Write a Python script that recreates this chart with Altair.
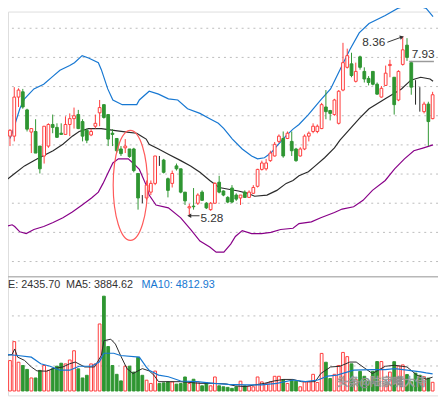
import altair as alt
import pandas as pd

# ---------------- data ----------------
open_ = [6.73, 6.65, 6.65, 7.32, 7.41, 7.10, 6.72, 6.73, 6.48, 6.31,
         6.48, 6.85, 6.80, 6.70, 6.68, 6.85, 6.95, 7.02, 6.90, 6.75,
         6.67, 6.82, 7.05, 7.19, 7.02, 6.70, 6.61, 6.43, 6.45, 6.43,
         6.43, 6.01, 5.57, 5.59, 5.69, 5.84, 6.23, 6.24, 5.92, 5.84,
         6.14, 6.09, 5.69, 5.42, 5.45, 5.50, 5.69, 5.50, 5.39, 5.50,
         5.86, 5.71, 5.60, 5.76, 5.64, 5.59, 5.69, 5.60, 5.67, 5.79,
         6.08, 6.09, 6.23, 6.31, 6.56, 6.61, 6.61, 6.56, 6.43, 6.31,
         6.43, 6.65, 6.73, 6.73, 6.78, 7.15, 7.09, 7.02, 6.87, 7.44,
         7.83, 7.89, 7.59, 8.01, 7.76, 7.64, 7.76, 7.54, 7.32, 7.52,
         7.86, 7.66, 7.27, 7.88, 8.21, 7.91, 7.44, 7.32, 7.07, 7.20,
         6.95]
close = [6.60, 6.75, 7.32, 7.44, 7.15, 6.77, 6.78, 6.36, 6.09, 6.82,
         6.85, 6.80, 6.63, 6.68, 6.85, 6.95, 7.00, 6.78, 6.65, 6.58,
         6.73, 6.87, 7.14, 6.97, 6.60, 6.68, 6.40, 6.35, 6.48, 6.30,
         6.06, 5.59, 5.57, 5.81, 5.84, 6.31, 6.23, 6.03, 5.72, 6.01,
         6.09, 5.69, 5.54, 5.44, 5.44, 5.64, 5.55, 5.42, 5.50, 5.84,
         5.69, 5.64, 5.52, 5.52, 5.57, 5.64, 5.60, 5.69, 5.77, 6.08,
         6.19, 6.19, 6.36, 6.51, 6.65, 6.31, 6.70, 6.40, 6.23, 6.43,
         6.65, 6.70, 6.82, 6.82, 7.19, 7.07, 7.04, 7.27, 7.42, 7.91,
         8.03, 7.69, 7.76, 7.83, 7.63, 7.57, 7.54, 7.37, 7.47, 7.73,
         7.88, 7.19, 7.76, 8.13, 8.00, 7.49, 7.44, 7.32, 7.20, 6.90,
         7.36]
high = [6.78, 6.77, 7.49, 7.47, 7.46, 7.12, 6.78, 6.94, 6.48, 6.82,
        6.87, 7.02, 6.87, 6.87, 6.99, 7.04, 7.14, 7.10, 6.94, 6.78,
        6.78, 7.02, 7.27, 7.19, 7.02, 6.77, 6.61, 6.48, 6.60, 6.43,
        6.45, 6.01, 5.64, 5.89, 5.89, 6.31, 6.31, 6.26, 5.94, 6.06,
        6.18, 6.09, 5.69, 5.49, 5.76, 5.67, 5.72, 5.52, 5.52, 5.86,
        5.97, 5.72, 5.62, 5.81, 5.67, 5.64, 5.72, 5.72, 5.81, 6.09,
        6.23, 6.26, 6.40, 6.55, 6.68, 6.73, 6.73, 6.73, 6.45, 6.46,
        6.68, 6.73, 6.87, 6.85, 7.22, 7.44, 7.10, 7.29, 7.44, 8.25,
        8.15, 8.08, 7.91, 8.03, 7.83, 7.68, 7.76, 7.57, 7.51, 7.86,
        7.96, 7.66, 7.78, 8.36, 8.33, 7.94, 7.61, 7.49, 7.24, 7.24,
        7.41]
low = [6.53, 6.48, 6.56, 7.15, 7.12, 6.73, 6.36, 6.36, 6.01, 6.18,
       6.45, 6.70, 6.62, 6.68, 6.68, 6.65, 6.78, 6.77, 6.56, 6.53,
       6.65, 6.78, 6.82, 6.95, 6.48, 6.48, 6.36, 6.31, 6.36, 6.28,
       6.03, 5.39, 5.50, 5.55, 5.64, 5.81, 6.14, 6.01, 5.60, 5.77,
       6.06, 5.67, 5.47, 5.28, 5.39, 5.47, 5.54, 5.40, 5.37, 5.49,
       5.67, 5.62, 5.50, 5.50, 5.54, 5.47, 5.59, 5.59, 5.66, 5.77,
       6.06, 6.06, 6.21, 6.30, 6.53, 6.28, 6.60, 6.31, 6.21, 6.30,
       6.41, 6.56, 6.70, 6.70, 6.77, 6.94, 6.92, 7.00, 6.85, 7.42,
       7.81, 7.66, 7.57, 7.79, 7.57, 7.52, 7.52, 7.36, 7.31, 7.51,
       7.66, 7.02, 7.25, 7.86, 7.94, 7.36, 7.19, 7.07, 7.04, 6.48,
       6.94]
volume = [5572, 8510, 13807, 8043, 7137, 6039, 3651, 3651, 5765, 7137,
          5765, 6204, 6945, 7768, 7576, 8674, 11255, 6204, 3651, 4392,
          7576, 7576, 18748, 26517, 12435, 7137, 4667, 2827, 6945, 6945,
          5298, 9415, 4392, 3020, 2114, 5572, 2114, 2278, 2553, 2553,
          1922, 2114, 3925, 2114, 3294, 2553, 1455, 2278, 1455, 3925,
          1455, 1180, 1016, 741, 1180, 2745, 1455, 1373, 1180, 3925,
          2553, 2114, 2553, 4118, 4118, 3212, 2114, 2900, 2745, 1180,
          2553, 2553, 4667, 2388, 10513, 8043, 3486, 4667, 7137, 10788,
          9608, 7604, 3294, 5490, 4118, 2745, 5490, 8235, 8235, 1647,
          5298, 8200, 7000, 7300, 4600, 2600, 5000, 4400, 4000, 3600,
          2435.70]

upper_idx = [1.0, 1.5, 3.3, 4.4, 6.6, 8.9, 11.1, 12.7, 15.0, 16.1, 17.9, 19.4, 21.7,
             22.4, 23.9, 25.1, 27.3, 30.7, 31.3, 33.6, 35.8, 38.1, 40.3, 42.6, 45.5,
             47.8, 49.8, 51.1, 52.2, 53.1, 55.4, 57.6, 59.0, 60.6, 62.1, 63.5, 65.7,
             67.3, 68.7, 70.9, 73.8, 76.1, 78.3, 80.6, 82.8, 85.1, 88.9, 91.8, 94.5,
             96.3, 98.5, 100.1]
upper_val = [6.61, 6.70, 7.12, 7.29, 7.46, 7.54, 7.68, 7.78, 7.86, 7.91, 8.03, 7.99, 7.91,
             7.79, 7.46, 7.27, 7.19, 7.19, 7.27, 7.42, 7.37, 7.29, 7.27, 7.12, 7.04,
             6.95, 6.87, 6.78, 6.68, 6.60, 6.43, 6.31, 6.26, 6.28, 6.36, 6.48, 6.66,
             6.77, 6.85, 7.02, 7.27, 7.46, 7.79, 8.13, 8.42, 8.58, 8.72, 8.84, 8.90,
             8.89, 8.84, 8.70]
mid_idx = [0.0, 2.1, 4.4, 7.3, 11.1, 13.4, 15.6, 17.2, 19.4, 22.4, 25.3, 28.4, 30.7,
           31.8, 32.9, 33.6, 35.8, 38.1, 41.0, 43.3, 45.5, 47.8, 50.0, 52.2, 54.5,
           56.7, 58.3, 61.2, 63.5, 65.7, 67.3, 68.7, 70.9, 72.5, 74.7, 77.0, 78.3,
           80.6, 82.8, 85.1, 88.9, 92.7, 94.9, 97.2, 99.4, 100.1]
mid_val = [5.89, 6.01, 6.14, 6.26, 6.40, 6.51, 6.65, 6.73, 6.78, 6.78, 6.75, 6.72, 6.70,
           6.65, 6.60, 6.51, 6.43, 6.34, 6.23, 6.14, 6.03, 5.89, 5.77, 5.74, 5.71,
           5.67, 5.62, 5.64, 5.72, 5.84, 5.89, 5.97, 6.04, 6.14, 6.28, 6.45, 6.58,
           6.77, 6.95, 7.12, 7.29, 7.46, 7.61, 7.66, 7.63, 7.59]
lower_idx = [0.0, 1.5, 2.1, 3.3, 4.8, 6.6, 8.9, 11.1, 13.4, 15.6, 17.9, 20.1, 21.7,
             22.8, 23.9, 25.1, 26.4, 28.7, 29.8, 31.3, 32.9, 33.6, 35.2, 38.1, 41.0,
             43.3, 45.5, 47.8, 49.3, 51.1, 52.7, 53.8, 55.4, 57.6, 59.9, 62.1, 64.4,
             67.3, 68.7, 71.6, 73.8, 77.0, 78.8, 81.5, 83.7, 85.9, 88.9, 91.1, 93.4,
             95.6, 97.9, 100.1]
lower_val = [5.10, 5.13, 5.10, 5.01, 4.98, 5.05, 5.10, 5.17, 5.25, 5.35, 5.47, 5.59, 5.69,
             5.84, 6.01, 6.19, 6.26, 6.26, 6.19, 6.08, 5.81, 5.64, 5.47, 5.42, 5.25,
             5.05, 4.85, 4.75, 4.66, 4.66, 4.80, 4.93, 5.03, 4.98, 4.98, 5.00, 5.05,
             5.07, 5.15, 5.18, 5.25, 5.34, 5.40, 5.44, 5.55, 5.72, 5.89, 6.09, 6.26,
             6.40, 6.45, 6.50]

ma5_idx = [0.0, 1.5, 2.1, 2.8, 4.4, 6.0, 7.3, 9.6, 11.1, 13.4, 15.0, 16.3, 18.5, 20.8,
           22.4, 23.0, 24.6, 25.7, 26.9, 28.4, 29.8, 32.0, 33.6, 34.7, 35.8, 41.0,
           45.5, 48.7, 51.6, 53.8, 56.1, 58.3, 60.6, 62.8, 65.1, 67.3, 69.3, 72.5,
           73.8, 76.1, 78.3, 80.6, 82.1, 83.7, 85.9, 88.9, 91.1, 94.0, 96.3, 98.5, 100.0]
ma5_val = [9937, 10211, 11749, 9470, 8564, 6725, 5627, 5545, 6259, 6725, 7631, 8098,
           6725, 6725, 9937, 14054, 14494, 13121, 9937, 6259, 4886, 6259, 5627, 4447,
           2608, 2608, 2141, 2141, 1976, 1427, 1235, 1702, 2141, 2800, 3239, 3239,
           2608, 2608, 4886, 6725, 6917, 8098, 8098, 6725, 4886, 6917, 7192, 6725,
           4447, 3300, 3884.62]
ma10_idx = [0.0, 2.8, 6.0, 8.2, 10.4, 12.7, 15.0, 17.2, 20.1, 21.9, 23.0, 25.3, 26.9,
            31.3, 32.9, 33.6, 35.8, 38.1, 41.0, 44.8, 48.7, 52.2, 56.1, 59.9, 63.5,
            67.3, 70.2, 73.1, 75.4, 77.6, 81.5, 85.9, 88.9, 91.1, 94.0, 97.2, 98.5, 100.0]
ma10_val = [10211, 9937, 9470, 7631, 6917, 5819, 5819, 6917, 6917, 8098, 10568, 10568,
            9937, 9470, 6725, 5819, 4447, 3980, 2800, 2608, 2141, 1867, 1702, 1702,
            2141, 3074, 2608, 3074, 4172, 4447, 5819, 5984, 5984, 6259, 5819, 5353,
            5078, 4812.93]

price_grid = [4.5, 5.0, 5.5, 6.0, 6.5, 7.0, 7.5, 8.0, 8.5]
vol_grid = [7000, 14000, 21000]

vol_last, ma5_last, ma10_last = 2435.70, 3884.62, 4812.93
hi_label, lo_label, ref_label = "8.36", "5.28", "7.93"
ref_price = 7.93
hi_arrow_i, hi_arrow_p = [89.4, 92.8], [8.26, 8.35]
lo_arrow_i, lo_arrow_p = [45.4, 43.0], [5.285, 5.285]
ref_line_i = [94.5, 100.3]
ellipse_i, ellipse_p = 29.2, 5.806
watermark = "头条@陆家嘴大侍"

# ---------------- styling ----------------
RED = "#ff3b3b"
GREEN = "#2f9632"
BLUE = "#1677d2"
PURPLE = "#880088"
DARK = "#333333"
GRID = "#bcbcbc"
W, H = 438, 391

X = alt.Scale(domain=[1.685, 100.11], nice=False, zero=False)
PY = alt.Scale(domain=[4.258, 8.786], range=[269, 0], nice=False, zero=False)
VY = alt.Scale(domain=[0, 21000], range=[386.5, 310], nice=False, zero=False)


def xe(f="i"):
    return alt.X(f, type="quantitative", scale=X, axis=None)


def pe(f):
    return alt.Y(f, type="quantitative", scale=PY, axis=None)


def ve(f):
    return alt.Y(f, type="quantitative", scale=VY, axis=None)


n = len(close)
df = pd.DataFrame({"i": list(range(n)), "o": open_, "h": high, "l": low,
                   "c": close, "v": volume})
df["dir"] = ["up" if c > o else ("down" if c < o else "flat") for o, c in zip(open_, close)]
df["vdir"] = ["up" if d == "up" else "down" for d in df["dir"]]

layers = []

# price grid
layers.append(alt.Chart(pd.DataFrame({"p": price_grid})).mark_rule(
    color=GRID, strokeDash=[2, 4], strokeWidth=1).encode(y=pe("p")))
# volume grid
layers.append(alt.Chart(pd.DataFrame({"v": vol_grid})).mark_rule(
    color=GRID, strokeDash=[2, 4], strokeWidth=1).encode(y=ve("v")))
# divider
layers.append(alt.Chart(pd.DataFrame({"a": [0]})).mark_rule(
    color="#b8b8b8", strokeWidth=1.5).encode(x=alt.value(0), x2=alt.value(W), y=alt.value(270)))

# bollinger bands
for idx, val, col in [(upper_idx, upper_val, BLUE), (mid_idx, mid_val, "#2a2a2a"),
                      (lower_idx, lower_val, PURPLE)]:
    layers.append(alt.Chart(pd.DataFrame({"i": idx, "p": val})).mark_line(
        color=col, strokeWidth=1.2).encode(x=xe(), y=pe("p")))

# candle wicks
layers.append(alt.Chart(df).mark_rule(strokeWidth=1).encode(
    x=xe(), y=pe("l"), y2="h",
    color=alt.Color("dir:N", scale=alt.Scale(domain=["up", "down", "flat"],
                                             range=[RED, GREEN, "#222222"]), legend=None)))
# candle bodies
layers.append(alt.Chart(df).transform_filter("datum.dir != 'flat'").mark_bar(
    size=2.8, strokeWidth=1).encode(
    x=xe(), y=pe("o"), y2="c",
    fill=alt.Fill("dir:N", scale=alt.Scale(domain=["up", "down"], range=["#ffffff", GREEN]),
                  legend=None),
    stroke=alt.Stroke("dir:N", scale=alt.Scale(domain=["up", "down"], range=[RED, GREEN]),
                      legend=None)))

# volume bars
layers.append(alt.Chart(df).mark_bar(size=2.8, strokeWidth=1).encode(
    x=xe(), y=ve("v"), y2=alt.datum(0),
    fill=alt.Fill("vdir:N", scale=alt.Scale(domain=["up", "down"], range=["#ffffff", GREEN]),
                  legend=None),
    stroke=alt.Stroke("vdir:N", scale=alt.Scale(domain=["up", "down"], range=[RED, GREEN]),
                      legend=None)))
# volume moving averages
layers.append(alt.Chart(pd.DataFrame({"i": ma5_idx, "v": ma5_val})).mark_line(
    color="#2a2a2a", strokeWidth=1).encode(x=xe(), y=ve("v")))
layers.append(alt.Chart(pd.DataFrame({"i": ma10_idx, "v": ma10_val})).mark_line(
    color=BLUE, strokeWidth=1.2).encode(x=xe(), y=ve("v")))

# annotations: max / min
layers.append(alt.Chart(pd.DataFrame({"i": hi_arrow_i, "p": hi_arrow_p})).mark_line(
    color=DARK, strokeWidth=1).encode(x=xe(), y=pe("p")))
layers.append(alt.Chart(pd.DataFrame({"i": hi_arrow_i[-1:], "p": hi_arrow_p[-1:]})).mark_point(
    shape="triangle-right", filled=True, size=22, angle=343, color=DARK, opacity=1).encode(
    x=xe(), y=pe("p")))
layers.append(alt.Chart(pd.DataFrame({"i": [hi_arrow_i[0] - 0.5], "p": [hi_arrow_p[0]],
                                      "t": [hi_label]})).mark_text(
    align="right", baseline="middle", font="Liberation Sans", fontSize=12, color=DARK).encode(
    x=xe(), y=pe("p"), text="t:N"))

layers.append(alt.Chart(pd.DataFrame({"i": lo_arrow_i, "p": lo_arrow_p})).mark_line(
    color=DARK, strokeWidth=1).encode(x=xe(), y=pe("p")))
layers.append(alt.Chart(pd.DataFrame({"i": lo_arrow_i[-1:], "p": lo_arrow_p[-1:]})).mark_point(
    shape="triangle-left", filled=True, size=22, color=DARK, opacity=1).encode(
    x=xe(), y=pe("p")))
layers.append(alt.Chart(pd.DataFrame({"i": [lo_arrow_i[0] + 0.2], "p": [lo_arrow_p[0] - 0.035],
                                      "t": [lo_label]})).mark_text(
    align="left", baseline="middle", font="Liberation Sans", fontSize=12, color=DARK).encode(
    x=xe(), y=pe("p"), text="t:N"))

# reference price line 7.93
layers.append(alt.Chart(pd.DataFrame({"i": ref_line_i, "p": [ref_price, ref_price]})).mark_line(
    color="#9a9a9a", strokeWidth=1.5).encode(x=xe(), y=pe("p")))
layers.append(alt.Chart(pd.DataFrame({"i": [ref_line_i[0] + 0.6], "p": [ref_price + 0.12],
                                      "t": [ref_label]})).mark_text(
    align="left", baseline="middle", font="Liberation Sans", fontSize=12, color=DARK).encode(
    x=xe(), y=pe("p"), text="t:N"))

# red ellipse highlight
ellipse_path = ("M0,-1C0.1726,-1 0.3125,-0.5523 0.3125,0C0.3125,0.5523 0.1726,1 0,1"
                "C-0.1726,1 -0.3125,0.5523 -0.3125,0C-0.3125,-0.5523 -0.1726,-1 0,-1Z")
layers.append(alt.Chart(pd.DataFrame({"i": [ellipse_i], "p": [ellipse_p]})).mark_point(
    shape=ellipse_path, size=12544, filled=False, stroke="#ff5a5a", strokeWidth=1.2,
    opacity=1).encode(x=xe(), y=pe("p")))

# volume header texts
hdr = [("E: %.2f" % vol_last, 0, DARK), ("MA5: %.2f" % ma5_last, 59, DARK),
       ("MA10: %.2f" % ma10_last, 136, BLUE)]
for t, xpos, col in hdr:
    layers.append(alt.Chart(pd.DataFrame({"t": [t]})).mark_text(
        align="left", baseline="alphabetic", font="Liberation Sans", fontSize=11,
        color=col).encode(x=alt.value(xpos), y=alt.value(282), text="t:N"))

# watermark
layers.append(alt.Chart(pd.DataFrame({"t": [watermark]})).mark_text(
    align="left", baseline="alphabetic", font="Noto Sans CJK SC", fontSize=11.5,
    fill="#ffffff", stroke="#8a8a8a", strokeWidth=0.7, opacity=0.95).encode(
    x=alt.value(335), y=alt.value(381), text="t:N"))

chart = alt.layer(*layers).resolve_scale(
    y="independent", color="independent", fill="independent", stroke="independent"
).properties(
    width=W, height=H, padding=0, autosize=alt.AutoSizeParams(type="none")
).configure_view(stroke=None).configure(background="#ffffff")

chart.save("out.html", embed_options={"renderer": "svg", "actions": False})
